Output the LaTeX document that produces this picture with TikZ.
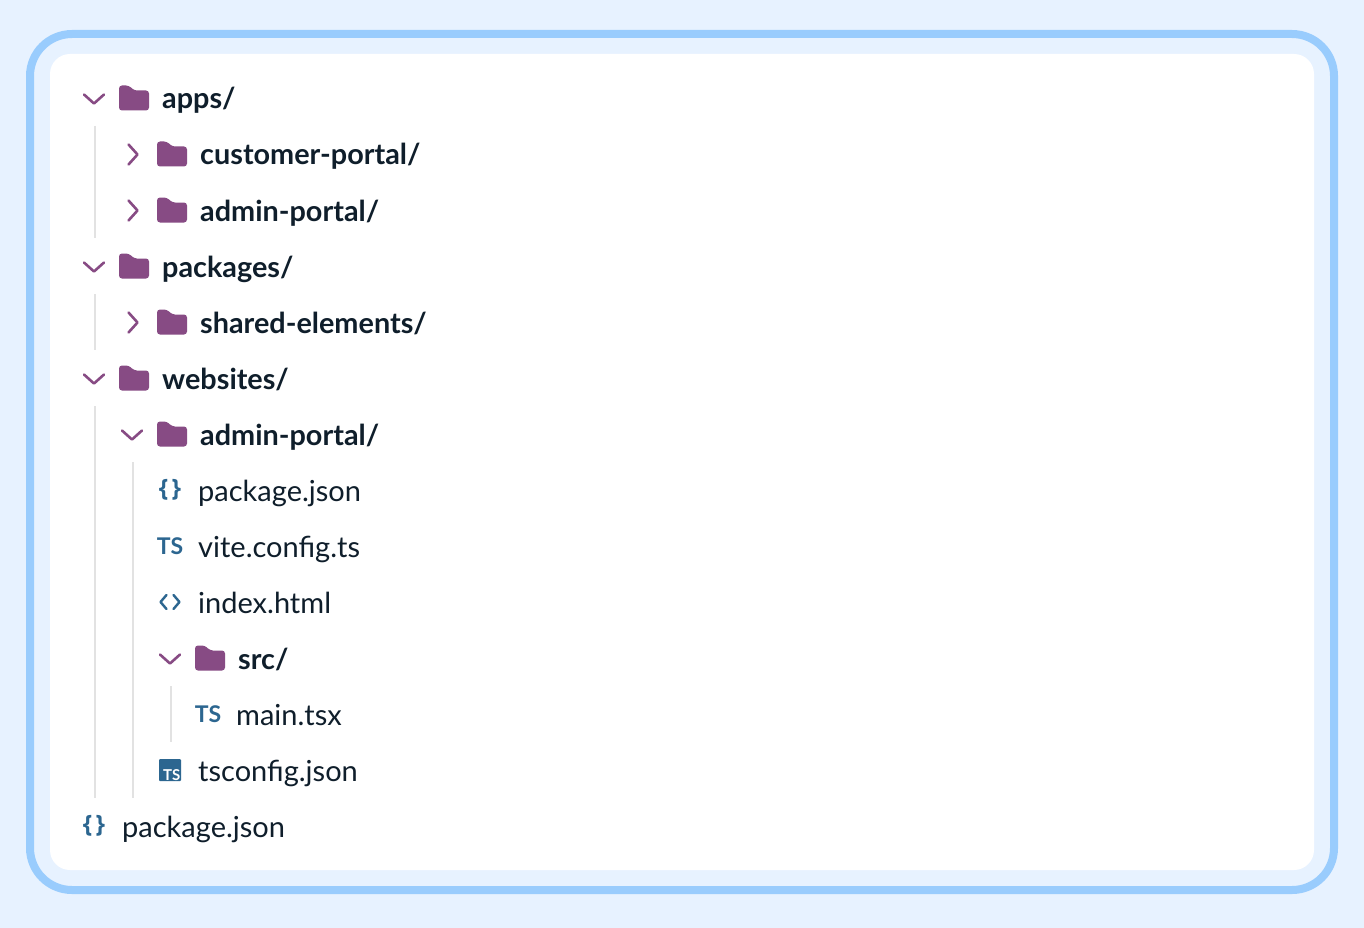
\documentclass[tikz,border=0pt]{standalone}
\usepackage{fontspec}
\setmainfont{Lato}
\newfontfamily\bracefont{Open Sans}
\definecolor{bgblue}{HTML}{E7F2FF}
\definecolor{rim}{HTML}{99CCFD}
\definecolor{plum}{HTML}{874B84}
\definecolor{ink}{HTML}{0F1E2B}
\definecolor{iconblue}{HTML}{2C6690}
\definecolor{guide}{HTML}{E2E2E2}
\tikzset{
  x=1pt,y=-1pt,
  dirlabel/.style={anchor=base west,inner sep=0pt,text=ink,font=\fontsize{28.8}{28.8}\selectfont\bfseries},
  filelabel/.style={anchor=base west,inner sep=0pt,text=ink,font=\fontsize{29}{29}\selectfont},
  iconlabel/.style={anchor=center,inner sep=0pt,text=iconblue,font=\fontsize{23}{23}\selectfont\bfseries},
  bracelabel/.style={anchor=center,inner sep=0pt,text=iconblue,font=\bracefont\fontsize{24}{24}\selectfont\bfseries},
  guideline/.style={draw=guide,line width=2pt},
  chev/.style={draw=plum,line width=2.6pt,line cap=round,line join=round},
  pics/folder/.style={code={
    \fill[plum,rounded corners=3pt] (-15,-12.5) -- (-5,-12.5) -- (0,-7.5) -- (15,-7.5) -- (15,12.5) -- (-15,12.5) -- cycle;
  }},
  pics/chevdown/.style={code={\draw[chev] (-10,-4.5) -- (0,4.5) -- (10,-4.5);}},
  pics/chevright/.style={code={\draw[chev] (-4.5,-10) -- (4.5,0) -- (-4.5,10);}},
}
\begin{document}
\begin{tikzpicture}
\useasboundingbox (0,0) rectangle (1364,928);
\fill[bgblue] (0,0) rectangle (1364,928);
\draw[rim,line width=8pt,rounded corners=42pt] (30,34) rectangle (1334,890);
\fill[white,rounded corners=20pt] (50,54) rectangle (1314,870);
% guide lines
\coordinate (g1a) at (95,126); \coordinate (g1b) at (95,238);
\coordinate (g2a) at (95,294); \coordinate (g2b) at (95,350);
\coordinate (g3a) at (95,406); \coordinate (g3b) at (95,798);
\coordinate (g4a) at (133,462); \coordinate (g4b) at (133,798);
\coordinate (g5a) at (171,686); \coordinate (g5b) at (171,742);
\draw[guideline] (g1a) -- (g1b);
\draw[guideline] (g2a) -- (g2b);
\draw[guideline] (g3a) -- (g3b);
\draw[guideline] (g4a) -- (g4b);
\draw[guideline] (g5a) -- (g5b);
% directories
\pic at (94,99) {chevdown};  \pic at (134,98) {folder};
\node[dirlabel] (apps) at (162,109) {apps/};
\pic at (133,154.5) {chevright}; \pic at (172,154) {folder};
\node[dirlabel] (customer) at (200,165) {customer-portal/};
\pic at (133,210.5) {chevright}; \pic at (172,210) {folder};
\node[dirlabel] (adminA) at (200,221) {admin-portal/};
\pic at (94,267) {chevdown}; \pic at (134,266) {folder};
\node[dirlabel] (packages) at (162,277) {packages/};
\pic at (133,322.5) {chevright}; \pic at (172,322) {folder};
\node[dirlabel] (shared) at (200,333) {shared-elements/};
\pic at (94,379) {chevdown}; \pic at (134,378) {folder};
\node[dirlabel] (websites) at (162,389) {websites/};
\pic at (132,435) {chevdown}; \pic at (172,434) {folder};
\node[dirlabel] (adminB) at (200,445) {admin-portal/};
\pic at (170,659) {chevdown}; \pic at (210,658) {folder};
\node[dirlabel] (src) at (238,669) {src/};
% files
\node[bracelabel] (iconPkgA) at (170,490) {\{\hspace{3.5pt}\}};
\node[filelabel] (pkgA) at (198,501) {package.json};
\node[iconlabel] (iconVite) at (170,546) {TS};
\node[filelabel] (vite) at (198,557) {vite.config.ts};
\draw[iconblue,line width=2.4pt,line cap=round,line join=round]
  (166.5,595) -- (160.5,602) -- (166.5,609)
  (173.5,595) -- (179.5,602) -- (173.5,609);
\node[filelabel] (index) at (198,613) {index.html};
\node[iconlabel] (iconMain) at (208,714) {TS};
\node[filelabel] (main) at (236,725) {main.tsx};
\fill[iconblue,rounded corners=1pt] (159,759) rectangle (181,781);
\node[anchor=base east,inner sep=0pt,text=white,font=\fontsize{15}{15}\selectfont\bfseries] (iconTs) at (180.5,780) {TS};
\node[filelabel] (tsconfig) at (198,781) {tsconfig.json};
\node[bracelabel] (iconPkgB) at (94,826) {\{\hspace{3.5pt}\}};
\node[filelabel] (pkgB) at (122,837) {package.json};
\end{tikzpicture}
\end{document}
